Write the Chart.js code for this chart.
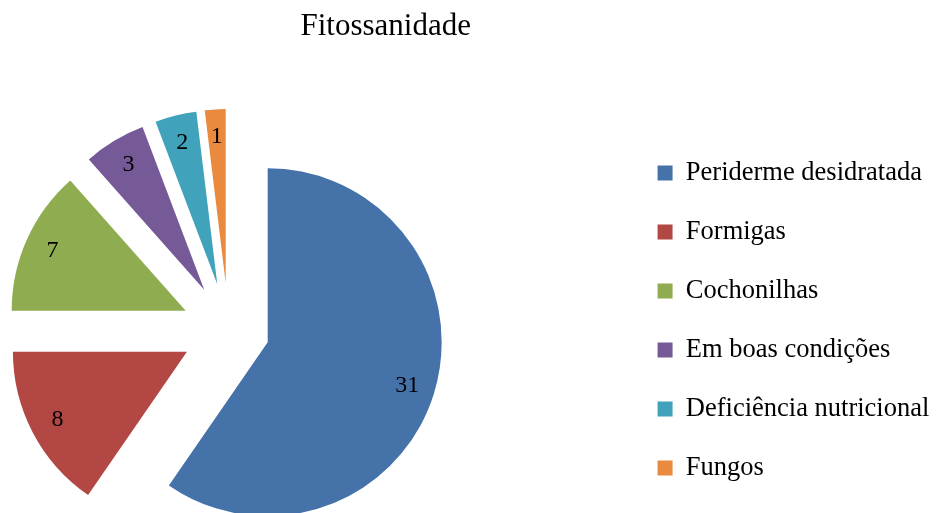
<!DOCTYPE html>
<html><head><meta charset="utf-8">
<script src="https://cdn.jsdelivr.net/npm/chart.js@4.4.1/dist/chart.umd.min.js"></script>
<style>
html,body{margin:0;padding:0;background:#fff;overflow:hidden;width:937px;height:513px}
#wrap{position:absolute;left:-168px;top:0}
canvas{display:block}
</style>
</head><body>
<div id="wrap"><canvas id="c" width="1108" height="624"></canvas></div>
<script>
const categories = ['Periderme desidratada','Formigas','Cochonilhas','Em boas condições','Deficiência nutricional','Fungos'];
const values = [31, 8, 7, 3, 2, 1];
const colors = ['#4672AA','#B24744','#8FAC50','#765A98','#40A2BB','#EA8A3E'];
const explodePx = [41, 47, 47, 47, 47, 47];
const titleText = 'Fitossanidade';

const FONT = "'Liberation Serif','Times New Roman',Times,serif";
const RADIUS = 174;
const LABEL_POS = 0.84;

// Explode each slice outwards along its own mid angle (Excel style "point explosion")
const explodeSlices = {
  id: 'explodeSlices',
  afterDatasetsUpdate(chart) {
    chart.getDatasetMeta(0).data.forEach((arc, i) => {
      const mid = (arc.startAngle + arc.endAngle) / 2;
      arc.x += Math.cos(mid) * explodePx[i];
      arc.y += Math.sin(mid) * explodePx[i];
    });
  }
};

const valueLabels = {
  id: 'valueLabels',
  afterDatasetsDraw(chart) {
    const ctx = chart.ctx;
    const meta = chart.getDatasetMeta(0);
    ctx.save();
    ctx.font = '24px ' + FONT;
    ctx.fillStyle = '#000';
    ctx.textAlign = 'center';
    ctx.textBaseline = 'middle';
    meta.data.forEach((arc, i) => {
      const mid = (arc.startAngle + arc.endAngle) / 2;
      const d = arc.outerRadius * LABEL_POS;
      ctx.fillText(String(values[i]), arc.x + Math.cos(mid) * d, arc.y + Math.sin(mid) * d);
    });
    ctx.restore();
  }
};

new Chart(document.getElementById('c'), {
  type: 'pie',
  data: {
    labels: categories,
    datasets: [{
      data: values,
      backgroundColor: colors,
      borderWidth: 0,
      hoverOffset: 0,
      radius: RADIUS,
      clip: false
    }]
  },
  options: {
    responsive: false,
    animation: false,
    layout: { padding: { top: 17.5, bottom: 0.5, left: 0, right: 0.65 } },
    plugins: {
      title: {
        display: true,
        text: titleText,
        color: '#000',
        font: { family: FONT, size: 31, weight: 'normal', lineHeight: '19px' },
        padding: 0
      },
      legend: {
        position: 'right',
        align: 'center',
        labels: {
          color: '#000',
          font: { family: FONT, size: 26.5 },
          boxWidth: 15,
          boxHeight: 15,
          padding: 32.5
        }
      },
      tooltip: { enabled: false }
    }
  },
  plugins: [explodeSlices, valueLabels]
});
</script>
</body></html>
